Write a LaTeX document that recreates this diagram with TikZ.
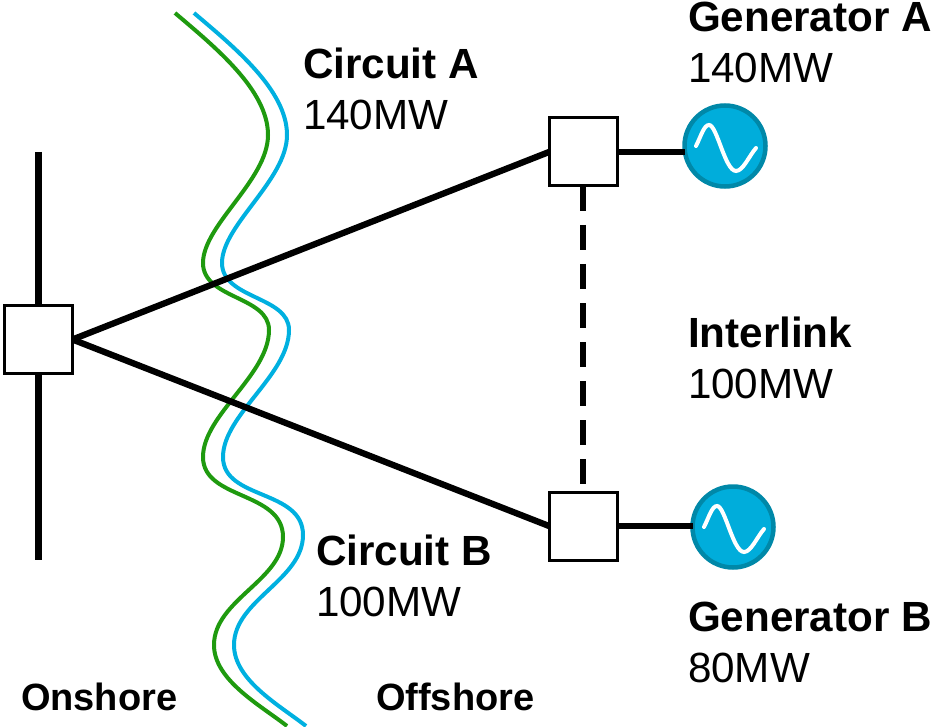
\documentclass[tikz,border=0pt]{standalone}
\usepackage{fontspec}
\setmainfont{Liberation Sans}
\tikzset{
  bus/.style={line width=6.3pt,black},
  swbox/.style={draw=black,line width=3pt,fill=white,minimum size=68pt,inner sep=0pt,outer sep=0pt},
  gen/.style={circle,draw=genedge,line width=4.5pt,fill=genfill,minimum size=81pt,inner sep=0pt,outer sep=0pt},
  lbl/.style={anchor=base west,inner sep=0pt,outer sep=0pt,font=\fontsize{42.2}{46}\selectfont},
  blbl/.style={lbl,font=\fontsize{42.2}{46}\selectfont\bfseries},
  sbl/.style={anchor=base west,inner sep=0pt,outer sep=0pt,font=\fontsize{38}{42}\selectfont\bfseries},
  coast/.style={line width=4pt,line cap=butt},
  wave/.style={line width=4pt,white,line cap=round}
}
\definecolor{genfill}{HTML}{00ADDB}
\definecolor{genedge}{HTML}{0088A8}
\definecolor{coastg}{HTML}{1F9A0F}
\definecolor{coastb}{HTML}{00B0E0}
\begin{document}
\begin{tikzpicture}[x=1pt,y=-1pt]
\useasboundingbox (0,0) rectangle (931,727);
% busbar
\coordinate (bustop) at (38.5,152);
\coordinate (busbot) at (38.5,560);
% coast lines
\draw[coast,coastg] (175,13) .. controls (215,47) and (268,90) .. (268,135)
  .. controls (268,180) and (203,225) .. (203,263)
  .. controls (203,299) and (269,296) .. (269,330)
  .. controls (269,375) and (203,415) .. (203,457)
  .. controls (203,500) and (283,491) .. (283,537)
  .. controls (283,580) and (214,600) .. (214,645)
  .. controls (214,680) and (260,705) .. (287,726);
\draw[coast,coastb] (194,13) .. controls (234,47) and (287,90) .. (287,135)
  .. controls (287,180) and (222,225) .. (222,263)
  .. controls (222,299) and (289,296) .. (289,330)
  .. controls (289,375) and (223,415) .. (223,457)
  .. controls (223,500) and (303,489) .. (303,535)
  .. controls (303,580) and (234,600) .. (234,645)
  .. controls (234,680) and (279,705) .. (306,726);
% nodes
\node[swbox] (onbox) at (38.5,339.5) {};
\node[swbox] (abox) at (583,152) {};
\node[swbox] (bbox) at (583,526) {};
\node[gen] (gena) at (725,146) {};
\node[gen] (genb) at (733,527) {};
% connectors
\draw[bus] (bustop) -- (onbox.north);
\draw[bus] (onbox.south) -- (busbot);
\draw[bus] (onbox.east) -- (abox.west);
\draw[bus] (onbox.east) -- (bbox.west);
\draw[bus] (abox.east) -- (gena.west |- abox.east);
\draw[bus] (bbox.east) -- (genb.west |- bbox.east);
\draw[bus,dash pattern=on 25pt off 14pt] (abox.south) -- (bbox.north);
% sine waves
\draw[wave] ([shift={(-29,0)}]gena.center) .. controls ([shift={(-24,-10)}]gena.center) and ([shift={(-21,-21)}]gena.center) .. ([shift={(-16,-21)}]gena.center)
  .. controls ([shift={(-8,-21)}]gena.center) and ([shift={(0,25)}]gena.center) .. ([shift={(11,25)}]gena.center)
  .. controls ([shift={(18,25)}]gena.center) and ([shift={(24,10)}]gena.center) .. ([shift={(31,2)}]gena.center);
\draw[wave] ([shift={(-29,0)}]genb.center) .. controls ([shift={(-24,-10)}]genb.center) and ([shift={(-21,-21)}]genb.center) .. ([shift={(-16,-21)}]genb.center)
  .. controls ([shift={(-8,-21)}]genb.center) and ([shift={(0,25)}]genb.center) .. ([shift={(11,25)}]genb.center)
  .. controls ([shift={(18,25)}]genb.center) and ([shift={(24,10)}]genb.center) .. ([shift={(31,2)}]genb.center);
% labels
\node[blbl] (la1) at (688,31.5) {Generator A};
\node[lbl] (la2) at (688,83) {140MW};
\node[blbl] (ca1) at (303,79) {Circuit A};
\node[lbl] (ca2) at (303,130) {140MW};
\node[blbl] (il1) at (688,347) {Interlink};
\node[lbl] (il2) at (688,398) {100MW};
\node[blbl] (cb1) at (316,565) {Circuit B};
\node[lbl] (cb2) at (316,616) {100MW};
\node[blbl] (lb1) at (688,631) {Generator B};
\node[lbl] (lb2) at (688,682) {80MW};
\node[sbl] (on) at (21,710) {Onshore};
\node[sbl] (off) at (376,710) {Offshore};
\end{tikzpicture}
\end{document}
